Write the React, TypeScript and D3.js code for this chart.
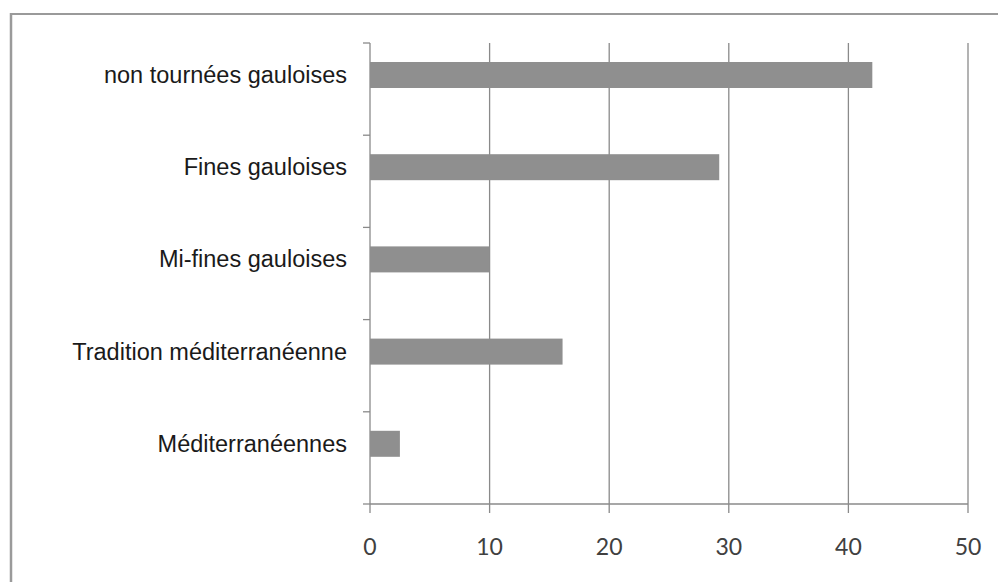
import React from "react";
import * as d3 from "d3";

const categories = [
  "non tournées gauloises",
  "Fines gauloises",
  "Mi-fines gauloises",
  "Tradition méditerranéenne",
  "Méditerranéennes",
];
const values = [42, 29.2, 10, 16.1, 2.5];
const xTicks = [0, 10, 20, 30, 40, 50];

const W = 1000;
const H = 582;
const left = 370;
const right = 968;
const top = 43;
const bottom = 504;

export default function App() {
  const x = d3.scaleLinear().domain([0, 50]).range([left, right]);
  const y = d3.scaleBand<string>().domain(categories).range([top, bottom]).padding(0);
  const step = y.step();
  const barH = 26;
  const barOffset = 19;
  const gridColor = "#8a8a8a";

  return (
    <svg
      width={W}
      height={H}
      style={{ position: "absolute", left: 0, top: 0, background: "#fff" }}
    >
      {/* outer frame: top and left */}
      <line x1={11} x2={998} y1={14} y2={14} stroke="#9a9a9a" strokeWidth={2} />
      <line x1={11} x2={11} y1={13} y2={582} stroke="#9a9a9a" strokeWidth={2.5} />

      {/* vertical gridlines */}
      {xTicks.map((t) => (
        <line
          key={"g" + t}
          x1={x(t)}
          x2={x(t)}
          y1={top}
          y2={bottom + 9}
          stroke={gridColor}
          strokeWidth={1.3}
        />
      ))}

      {/* x axis */}
      <line x1={left} x2={right} y1={bottom} y2={bottom} stroke={gridColor} strokeWidth={1.5} />

      {/* y axis ticks */}
      {categories.map((c) => (
        <line
          key={"yt" + c}
          x1={left - 7}
          x2={left}
          y1={y(c)!}
          y2={y(c)!}
          stroke={gridColor}
          strokeWidth={1.3}
        />
      ))}
      <line x1={left - 7} x2={left} y1={bottom} y2={bottom} stroke={gridColor} strokeWidth={1.3} />

      {/* bars */}
      {categories.map((c, i) => (
        <rect
          key={"b" + c}
          x={x(0)}
          y={y(c)! + barOffset}
          width={x(values[i]) - x(0)}
          height={barH}
          fill="#8f8f8f"
        />
      ))}

      {/* category labels */}
      {categories.map((c) => (
        <text
          key={"l" + c}
          x={347}
          y={y(c)! + barOffset + barH / 2}
          textAnchor="end"
          dominantBaseline="central"
          fontFamily="'Liberation Sans', Arial, sans-serif"
          fontSize={23.5}
          fill="#1a1a1a"
        >
          {c}
        </text>
      ))}

      {/* x tick labels */}
      {xTicks.map((t) => (
        <text
          key={"xt" + t}
          x={x(t)}
          y={546}
          textAnchor="middle"
          dominantBaseline="central"
          fontFamily="Lato, 'Open Sans', sans-serif"
          fontSize={23}
          fill="#404040"
        >
          {t}
        </text>
      ))}
    </svg>
  );
}
